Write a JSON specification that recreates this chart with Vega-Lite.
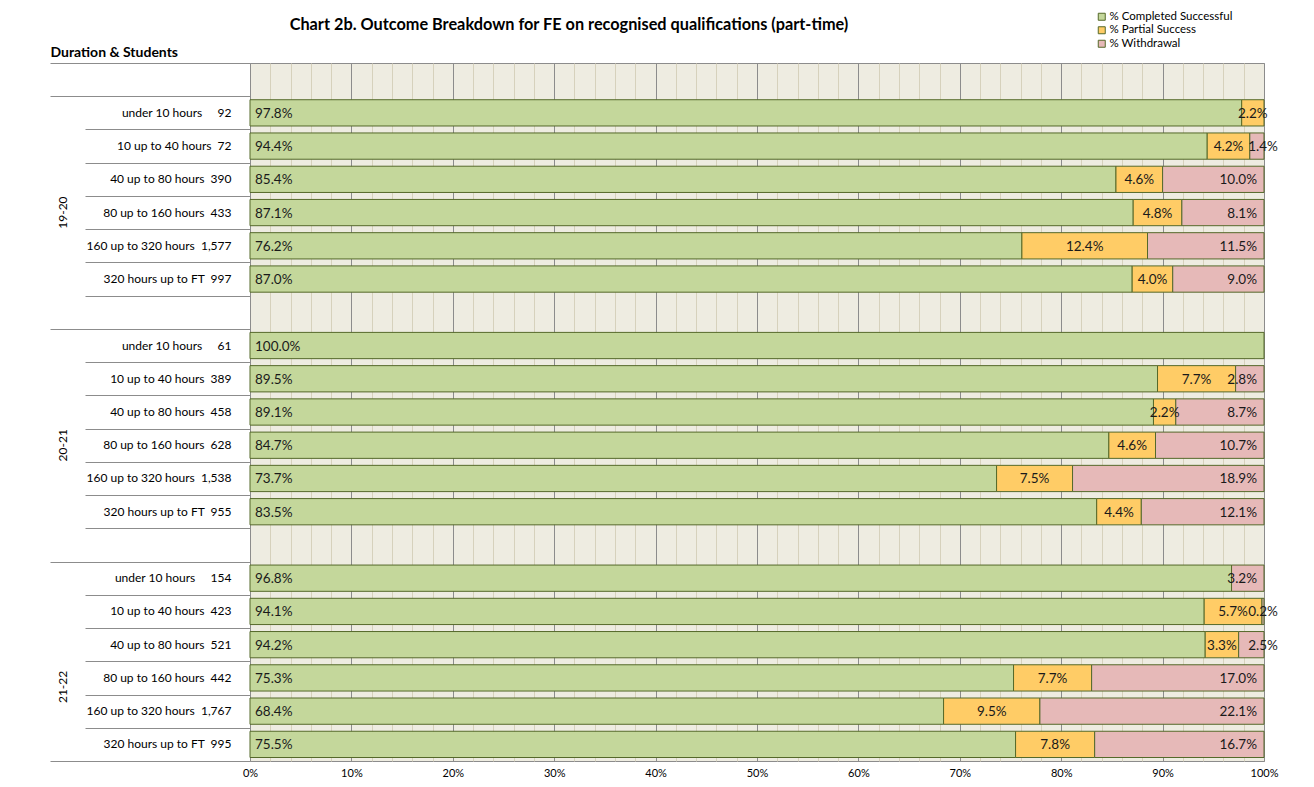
{
  "$schema": "https://vega.github.io/schema/vega-lite/v6.json",
  "width": 1014,
  "height": 698,
  "autosize": {"type": "none"},
  "padding": {"left": 250, "top": 63, "right": 50, "bottom": 26},
  "title": {"text": "Chart 2b. Outcome Breakdown for FE on recognised qualifications (part-time)", "anchor": "middle", "dx": -188, "dy": 34, "font": "Lato", "fontSize": 16.3, "fontWeight": "bold", "color": "#000000", "offset": 12},
  "data": {"values": [
    {"key": "19-20|under 10 hours|92", "outcome": "% Completed Successful", "ord": 1, "pct": 0.978},
    {"key": "19-20|under 10 hours|92", "outcome": "% Partial Success", "ord": 2, "pct": 0.022},
    {"key": "19-20|10 up to 40 hours|72", "outcome": "% Completed Successful", "ord": 1, "pct": 0.944},
    {"key": "19-20|10 up to 40 hours|72", "outcome": "% Partial Success", "ord": 2, "pct": 0.042},
    {"key": "19-20|10 up to 40 hours|72", "outcome": "% Withdrawal", "ord": 3, "pct": 0.014},
    {"key": "19-20|40 up to 80 hours|390", "outcome": "% Completed Successful", "ord": 1, "pct": 0.854},
    {"key": "19-20|40 up to 80 hours|390", "outcome": "% Partial Success", "ord": 2, "pct": 0.046},
    {"key": "19-20|40 up to 80 hours|390", "outcome": "% Withdrawal", "ord": 3, "pct": 0.100},
    {"key": "19-20|80 up to 160 hours|433", "outcome": "% Completed Successful", "ord": 1, "pct": 0.871},
    {"key": "19-20|80 up to 160 hours|433", "outcome": "% Partial Success", "ord": 2, "pct": 0.048},
    {"key": "19-20|80 up to 160 hours|433", "outcome": "% Withdrawal", "ord": 3, "pct": 0.081},
    {"key": "19-20|160 up to 320 hours|1,577", "outcome": "% Completed Successful", "ord": 1, "pct": 0.762},
    {"key": "19-20|160 up to 320 hours|1,577", "outcome": "% Partial Success", "ord": 2, "pct": 0.124},
    {"key": "19-20|160 up to 320 hours|1,577", "outcome": "% Withdrawal", "ord": 3, "pct": 0.115},
    {"key": "19-20|320 hours up to FT|997", "outcome": "% Completed Successful", "ord": 1, "pct": 0.870},
    {"key": "19-20|320 hours up to FT|997", "outcome": "% Partial Success", "ord": 2, "pct": 0.040},
    {"key": "19-20|320 hours up to FT|997", "outcome": "% Withdrawal", "ord": 3, "pct": 0.090},
    {"key": "20-21|under 10 hours|61", "outcome": "% Completed Successful", "ord": 1, "pct": 1.000},
    {"key": "20-21|10 up to 40 hours|389", "outcome": "% Completed Successful", "ord": 1, "pct": 0.895},
    {"key": "20-21|10 up to 40 hours|389", "outcome": "% Partial Success", "ord": 2, "pct": 0.077},
    {"key": "20-21|10 up to 40 hours|389", "outcome": "% Withdrawal", "ord": 3, "pct": 0.028},
    {"key": "20-21|40 up to 80 hours|458", "outcome": "% Completed Successful", "ord": 1, "pct": 0.891},
    {"key": "20-21|40 up to 80 hours|458", "outcome": "% Partial Success", "ord": 2, "pct": 0.022},
    {"key": "20-21|40 up to 80 hours|458", "outcome": "% Withdrawal", "ord": 3, "pct": 0.087},
    {"key": "20-21|80 up to 160 hours|628", "outcome": "% Completed Successful", "ord": 1, "pct": 0.847},
    {"key": "20-21|80 up to 160 hours|628", "outcome": "% Partial Success", "ord": 2, "pct": 0.046},
    {"key": "20-21|80 up to 160 hours|628", "outcome": "% Withdrawal", "ord": 3, "pct": 0.107},
    {"key": "20-21|160 up to 320 hours|1,538", "outcome": "% Completed Successful", "ord": 1, "pct": 0.737},
    {"key": "20-21|160 up to 320 hours|1,538", "outcome": "% Partial Success", "ord": 2, "pct": 0.075},
    {"key": "20-21|160 up to 320 hours|1,538", "outcome": "% Withdrawal", "ord": 3, "pct": 0.189},
    {"key": "20-21|320 hours up to FT|955", "outcome": "% Completed Successful", "ord": 1, "pct": 0.835},
    {"key": "20-21|320 hours up to FT|955", "outcome": "% Partial Success", "ord": 2, "pct": 0.044},
    {"key": "20-21|320 hours up to FT|955", "outcome": "% Withdrawal", "ord": 3, "pct": 0.121},
    {"key": "21-22|under 10 hours|154", "outcome": "% Completed Successful", "ord": 1, "pct": 0.968},
    {"key": "21-22|under 10 hours|154", "outcome": "% Withdrawal", "ord": 3, "pct": 0.032},
    {"key": "21-22|10 up to 40 hours|423", "outcome": "% Completed Successful", "ord": 1, "pct": 0.941},
    {"key": "21-22|10 up to 40 hours|423", "outcome": "% Partial Success", "ord": 2, "pct": 0.057},
    {"key": "21-22|10 up to 40 hours|423", "outcome": "% Withdrawal", "ord": 3, "pct": 0.002},
    {"key": "21-22|40 up to 80 hours|521", "outcome": "% Completed Successful", "ord": 1, "pct": 0.942},
    {"key": "21-22|40 up to 80 hours|521", "outcome": "% Partial Success", "ord": 2, "pct": 0.033},
    {"key": "21-22|40 up to 80 hours|521", "outcome": "% Withdrawal", "ord": 3, "pct": 0.025},
    {"key": "21-22|80 up to 160 hours|442", "outcome": "% Completed Successful", "ord": 1, "pct": 0.753},
    {"key": "21-22|80 up to 160 hours|442", "outcome": "% Partial Success", "ord": 2, "pct": 0.077},
    {"key": "21-22|80 up to 160 hours|442", "outcome": "% Withdrawal", "ord": 3, "pct": 0.170},
    {"key": "21-22|160 up to 320 hours|1,767", "outcome": "% Completed Successful", "ord": 1, "pct": 0.684},
    {"key": "21-22|160 up to 320 hours|1,767", "outcome": "% Partial Success", "ord": 2, "pct": 0.095},
    {"key": "21-22|160 up to 320 hours|1,767", "outcome": "% Withdrawal", "ord": 3, "pct": 0.221},
    {"key": "21-22|320 hours up to FT|995", "outcome": "% Completed Successful", "ord": 1, "pct": 0.755},
    {"key": "21-22|320 hours up to FT|995", "outcome": "% Partial Success", "ord": 2, "pct": 0.078},
    {"key": "21-22|320 hours up to FT|995", "outcome": "% Withdrawal", "ord": 3, "pct": 0.167}
  ]},
  "layer": [
    {
      "mark": {"type": "bar", "height": {"band": 0.79}, "stroke": "#55692a", "strokeWidth": 1},
      "encoding": {
        "y": {
          "field": "key", "type": "nominal",
          "scale": {"domain": ["top||",
            "19-20|under 10 hours|92", "19-20|10 up to 40 hours|72", "19-20|40 up to 80 hours|390", "19-20|80 up to 160 hours|433", "19-20|160 up to 320 hours|1,577", "19-20|320 hours up to FT|997", "19-20||",
            "20-21|under 10 hours|61", "20-21|10 up to 40 hours|389", "20-21|40 up to 80 hours|458", "20-21|80 up to 160 hours|628", "20-21|160 up to 320 hours|1,538", "20-21|320 hours up to FT|955", "20-21||",
            "21-22|under 10 hours|154", "21-22|10 up to 40 hours|423", "21-22|40 up to 80 hours|521", "21-22|80 up to 160 hours|442", "21-22|160 up to 320 hours|1,767", "21-22|320 hours up to FT|995"],
            "paddingInner": 0, "paddingOuter": 0},
          "axis": {
            "orient": "left", "domain": false, "ticks": false, "grid": false,
            "labelExpr": "split(datum.value,'|')[1] + (split(datum.value,'|')[1] === 'under 10 hours' ? '\u00a0\u00a0\u00a0\u00a0\u00a0' : '\u00a0\u00a0') + split(datum.value,'|')[2]",
            "labelFont": "Lato", "labelFontSize": 12, "labelColor": "#000000", "labelPadding": 19, "labelLimit": 0,
            "title": "Duration & Students", "titleAngle": 0, "titleAlign": "left", "titleBaseline": "alphabetic",
            "titleX": -200, "titleY": -7, "titleFont": "Lato", "titleFontSize": 14, "titleFontWeight": "bold", "titleColor": "#000000"
          }
        },
        "x": {
          "field": "pct", "type": "quantitative", "stack": "normalize",
          "scale": {"domain": [0, 1], "nice": false},
          "axis": {
            "orient": "bottom", "title": null, "domain": false, "ticks": false, "grid": true,
            "values": [0,0.02,0.04,0.06,0.08,0.1,0.12,0.14,0.16,0.18,0.2,0.22,0.24,0.26,0.28,0.3,0.32,0.34,0.36,0.38,0.4,0.42,0.44,0.46,0.48,0.5,0.52,0.54,0.56,0.58,0.6,0.62,0.64,0.66,0.68,0.7,0.72,0.74,0.76,0.78,0.8,0.82,0.84,0.86,0.88,0.9,0.92,0.94,0.96,0.98,1],
            "gridColor": {"condition": {"test": "round(datum.value*50) % 5 === 0", "value": "#8c8c8c"}, "value": "#d6d1bc"},
            "gridWidth": 1,
            "labelExpr": "round(datum.value*50) % 5 === 0 ? format(datum.value, '.0%') : ''",
            "labelOverlap": false, "labelFlush": false,
            "labelFont": "Lato", "labelFontSize": 11, "labelColor": "#000000", "labelPadding": 6
          }
        },
        "color": {
          "field": "outcome", "type": "nominal",
          "scale": {"domain": ["% Completed Successful", "% Partial Success", "% Withdrawal"], "range": ["#c4d79b", "#ffcc66", "#e6b9b8"]},
          "legend": {
            "orient": "none", "legendX": 846, "legendY": -52, "title": null, "padding": 0,
            "symbolType": "square", "symbolSize": 49, "symbolStrokeColor": "#55692a", "symbolStrokeWidth": 1,
            "labelFont": "Lato", "labelFontSize": 11.5, "labelColor": "#000000", "rowPadding": 0.5, "labelOffset": 2
          }
        },
        "order": {"field": "ord", "type": "quantitative"}
      }
    },
    {
      "transform": [{"filter": "datum.ord === 1"}],
      "mark": {"type": "text", "align": "left", "baseline": "middle", "dx": 5, "dy": 1, "font": "Lato", "fontSize": 13.5, "color": "#1a1a1a"},
      "encoding": {
        "y": {"field": "key", "type": "nominal",
          "axis": {"orient": "left", "domain": false, "labels": false, "grid": false, "ticks": true, "tickBand": "extent", "tickSize": 165, "tickColor": "#8c8c8c", "tickWidth": 1, "title": null}},
        "x": {"datum": 0, "type": "quantitative", "axis": null},
        "text": {"field": "pct", "type": "quantitative", "format": ".1%"}
      }
    },
    {
      "mark": {"type": "text", "align": "center", "baseline": "middle", "dy": 1, "font": "Lato", "fontSize": 13.5, "color": "#1a1a1a"},
      "encoding": {
        "y": {"field": "key", "type": "nominal",
          "axis": {"orient": "left", "domain": false, "labels": false, "grid": false, "ticks": true, "tickBand": "extent", "tickSize": 200, "tickColor": "#8c8c8c", "tickWidth": 1, "title": null,
            "values": ["top||", "19-20||", "20-21||", "21-22|320 hours up to FT|995"]}},
        "x": {"field": "pct", "type": "quantitative", "stack": "normalize", "bandPosition": 0.5, "axis": null},
        "detail": {"field": "outcome"},
        "order": {"field": "ord", "type": "quantitative"},
        "text": {"condition": {"test": "datum.ord === 2", "field": "pct", "type": "quantitative", "format": ".1%"}, "value": ""}
      }
    },
    {
      "mark": {"type": "text", "align": "right", "baseline": "middle", "dx": -7, "dy": 1, "font": "Lato", "fontSize": 13.5, "color": "#1a1a1a"},
      "encoding": {
        "y": {"field": "key", "type": "nominal",
          "axis": {"orient": "left", "domain": false, "ticks": false, "grid": false, "title": null,
            "values": ["19-20|80 up to 160 hours|433", "20-21|80 up to 160 hours|628", "21-22|80 up to 160 hours|442"],
            "labelExpr": "split(datum.value,'|')[0]", "labelAngle": 270, "labelAlign": "center", "labelBaseline": "middle",
            "labelPadding": 188, "labelFont": "Lato", "labelFontSize": 12, "labelColor": "#000000",
            "labelOffset": {"condition": {"test": "indexof(datum.value, '21-22') === 0", "value": 9}, "value": 0}}},
        "x": {"field": "pct", "type": "quantitative", "stack": "normalize", "axis": null},
        "detail": {"field": "outcome"},
        "order": {"field": "ord", "type": "quantitative"},
        "text": {"condition": {"test": "datum.ord === 3 && datum.pct >= 0.027", "field": "pct", "type": "quantitative", "format": ".1%"}, "value": ""}
      }
    },
    {
      "mark": {"type": "text", "align": "center", "baseline": "middle", "dx": -1, "dy": 1, "font": "Lato", "fontSize": 13.5, "color": "#1a1a1a"},
      "encoding": {
        "y": {"field": "key", "type": "nominal", "axis": null},
        "x": {"field": "pct", "type": "quantitative", "stack": "normalize", "axis": null},
        "detail": {"field": "outcome"},
        "order": {"field": "ord", "type": "quantitative"},
        "text": {"condition": {"test": "datum.ord === 3 && datum.pct < 0.027", "field": "pct", "type": "quantitative", "format": ".1%"}, "value": ""}
      }
    }
  ],
  "resolve": {"axis": {"x": "independent", "y": "independent"}},
  "config": {
    "font": "Lato",
    "view": {"stroke": "#8c8c8c", "fill": "#eeece1"}
  }
}
